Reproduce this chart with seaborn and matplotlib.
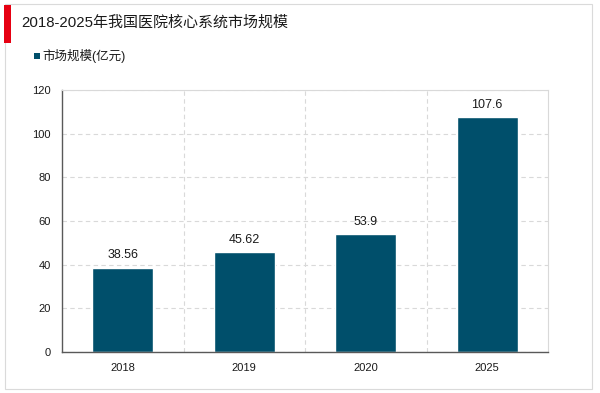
import matplotlib
matplotlib.use("Agg")
import matplotlib.pyplot as plt
import seaborn as sns
import pandas as pd
from matplotlib.patches import Rectangle
from matplotlib.ticker import FixedLocator

years = ["2018", "2019", "2020", "2025"]
values = [38.56, 45.62, 53.9, 107.6]
value_labels = ["38.56", "45.62", "53.9", "107.6"]
series_name = "市场规模(亿元)"
title = "2018-2025年我国医院核心系统市场规模"

sns.set_theme(style="white")
plt.rcParams['font.family'] = ['Liberation Sans', 'Noto Sans CJK SC', 'DejaVu Sans']

df = pd.DataFrame({"year": years, "value": values})
color = "#004F6B"

fig = plt.figure(figsize=(6, 3.93), dpi=100)
fig.patch.set_facecolor("white")
# outer frame
fig.add_artist(Rectangle((5/600, 4/393), 587/600, 385/393, transform=fig.transFigure,
                         fill=False, edgecolor="#DADADA", linewidth=0.8))
# red accent
fig.add_artist(Rectangle((4/600, 1-43/393), 7/600, 38/393, transform=fig.transFigure,
                         facecolor="#E60012", edgecolor="none"))
fig.text(21/600, 1-23/393, title, fontsize=10.8, va="center", ha="left", color="#1a1a1a")
fig.add_artist(Rectangle((34/600, 1-59/393), 6/600, 6/393, transform=fig.transFigure,
                         facecolor=color, edgecolor="none"))
fig.text(42/600, 1-56/393, series_name, fontsize=9, va="center", ha="left", color="#1a1a1a")

ax = fig.add_axes([62/600, 1-352/393, 486/600, 262/393])
sns.barplot(data=df, x="year", y="value", color=color, width=0.5, ax=ax, saturation=1)
ax.set_ylim(0, 120)
ax.set_yticks(range(0, 121, 20))
ax.set_xlim(-0.5, 3.5)
ax.set_xlabel("")
ax.set_ylabel("")
ax.xaxis.set_minor_locator(FixedLocator([0.5, 1.5, 2.5]))
ax.grid(axis="y", which="major", linestyle=(0, (4, 3)), color="#D9D9D9", linewidth=0.8)
ax.grid(axis="x", which="minor", linestyle=(0, (4, 3)), color="#D9D9D9", linewidth=0.8)
ax.grid(axis="x", which="major", visible=False)
ax.set_axisbelow(True)
for s in ["top", "right"]:
    ax.spines[s].set_color("#D9D9D9")
    ax.spines[s].set_linewidth(0.8)
for s in ["left", "bottom"]:
    ax.spines[s].set_color("#595959")
    ax.spines[s].set_linewidth(1.0)
ax.tick_params(axis="both", which="both", length=0, labelsize=8, colors="#1a1a1a")
ax.tick_params(axis="y", pad=8)
ax.tick_params(axis="x", pad=8)
for i, (v, lab) in enumerate(zip(values, value_labels)):
    ax.text(i, v + 3, lab, ha="center", va="bottom", fontsize=9, color="#1a1a1a")

fig.savefig("out.png", dpi=100, facecolor="white")
